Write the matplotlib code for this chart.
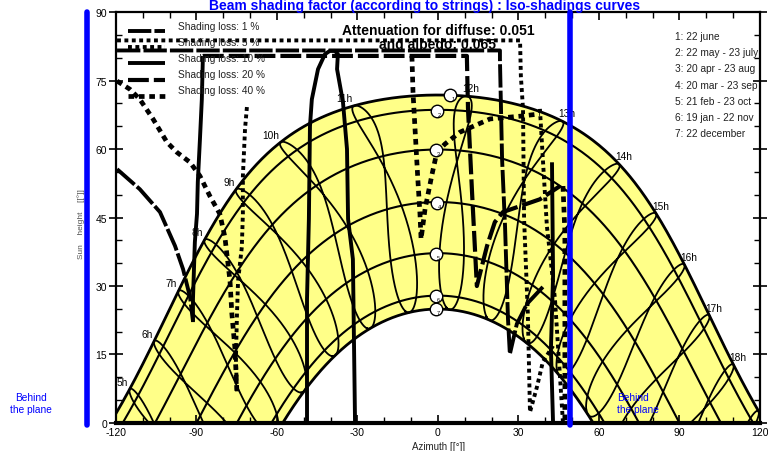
import numpy as np
import matplotlib
matplotlib.use("Agg")
import matplotlib.pyplot as plt

plt.rcParams["font.family"] = ["Liberation Sans", "DejaVu Sans"]
plt.rcParams["axes.unicode_minus"] = False

# ---- site / geometry -------------------------------------------------------
latitude = 41.6              # deg N
clock_offset_min = 16.0      # legal time -> mean solar time (minutes)
plane_azimuth = -40.8        # azimuth of the collector plane

# ---- sun-path dates ---------------------------------------------------------
date_labels = ["1: 22 june", "2: 22 may - 23 july", "3: 20 apr - 23 aug",
               "4: 20 mar - 23 sep", "5: 21 feb - 23 oct", "6: 19 jan - 22 nov",
               "7: 22 december"]
date_declinations = [23.44, 20.2, 11.5, 0.0, -11.2, -20.5, -23.44]
noon_marker_az = [4.5, -0.4, -0.8, -0.4, -0.8, -0.8, -0.8]
noon_marker_alt = [71.8, 68.3, 59.8, 48.2, 37.0, 27.8, 25.0]

hour_lines = list(range(5, 20))
hour_labels = list(range(5, 19))
june_day = 173

# ---- iso-shading curves (azimuth, sun height) -------------------------------
loss_levels = ["1 %", "5 %", "10 %", "20 %", "40 %"]

iso_1_top = [(-119.6, 81.6), (23.1, 81.6), (23.1, 79.7), (23.9, 57.8), (25.0, 43.1),
             (26.1, 22.8), (26.8, 15.1), (29.4, 21.7), (33.2, 26.1), (39.1, 29.8)]
iso_1_west = [(-119.6, 55.6), (-111.1, 51.2), (-103.6, 46.2), (-98.0, 38.8),
              (-95.0, 33.7), (-92.4, 27.6), (-91.3, 22.3)]
iso_5_top = [(-119.6, 83.8), (30.6, 83.8), (30.9, 76.0), (31.7, 68.8), (32.1, 44.7),
             (33.5, 23.9), (34.3, 2.4), (36.9, 7.9), (39.1, 13.4), (42.9, 16.9)]
iso_5_west = [(-71.2, 69.2), (-71.9, 64.4), (-72.7, 54.1), (-72.7, 45.8), (-73.1, 38.5),
              (-74.5, 31.1), (-74.9, 23.9), (-75.3, 14.0), (-74.9, 6.4)]
iso_5_east = [(38.0, 68.8), (39.1, 57.8), (40.6, 43.1), (43.6, 27.2), (46.6, 0.0)]
iso_10_west = [(-87.6, 80.4), (-88.0, 70.9), (-88.7, 62.2), (-89.5, 52.8), (-89.8, 45.8),
               (-90.6, 39.6), (-91.3, 27.2), (-91.3, 22.1)]
iso_10_peak = [(-48.8, 0.0), (-48.8, 27.2), (-48.1, 44.7), (-47.7, 65.0), (-47.0, 70.9),
               (-44.7, 77.5), (-42.1, 80.8), (-40.3, 81.5), (-38.4, 81.5), (-37.3, 80.8),
               (-37.6, 77.5), (-35.4, 70.3), (-33.9, 60.0), (-33.5, 44.7), (-31.7, 35.9),
               (-30.9, 0.0)]
iso_10_east = [(42.5, 57.1), (42.9, 32.2), (42.1, 16.2), (42.9, 0.0)]
iso_20_top = [(-87.6, 80.4), (10.8, 80.4), (10.8, 79.7), (11.2, 68.8), (12.7, 50.6),
              (14.5, 30.0), (18.3, 38.8), (21.2, 44.0), (24.2, 46.2), (30.6, 47.5),
              (38.0, 49.0), (45.5, 51.9)]
iso_40_west = [(-119.6, 74.9), (-114.8, 73.1), (-111.1, 70.9), (-106.2, 66.6),
               (-101.0, 61.5), (-97.3, 59.3), (-92.4, 57.1), (-88.7, 54.1), (-85.0, 49.7),
               (-81.3, 45.8), (-79.4, 40.7), (-77.5, 31.1), (-76.8, 23.9), (-75.7, 16.6),
               (-74.9, 6.4)]
iso_40_noon = [(-9.7, 80.4), (-9.3, 72.5), (-8.6, 65.0), (-7.5, 53.4), (-6.7, 45.8),
               (-6.3, 40.3), (-4.8, 46.9), (-2.2, 54.5), (-0.4, 59.3), (2.6, 61.1),
               (8.2, 63.7), (19.4, 66.6), (30.6, 67.2), (38.0, 67.7)]
iso_40_east = [(46.6, 51.9), (47.3, 41.8), (47.3, 0.0)]

iso_curves = {
    "1 %": [iso_1_top, iso_1_west],
    "5 %": [iso_5_top, iso_5_west, iso_5_east],
    "10 %": [iso_10_west, iso_10_peak, iso_10_east],
    "20 %": [iso_20_top],
    "40 %": [iso_40_west, iso_40_noon, iso_40_east],
}
loss_styles = {
    "1 %": dict(linestyle=(0, (6, 0.8)), linewidth=2.8),
    "5 %": dict(linestyle=(0, (1.0, 0.9)), linewidth=2.8),
    "10 %": dict(linestyle="-", linewidth=2.8),
    "20 %": dict(linestyle=(0, (5, 1.2)), linewidth=3.0),
    "40 %": dict(linestyle=(0, (1.2, 1.0)), linewidth=3.4),
}


def sun_position(decl, hour_angle):
    phi = np.radians(latitude)
    d = np.radians(decl)
    h = np.radians(hour_angle)
    sin_alt = np.sin(phi) * np.sin(d) + np.cos(phi) * np.cos(d) * np.cos(h)
    alt = np.degrees(np.arcsin(np.clip(sin_alt, -1, 1)))
    az = np.degrees(np.arctan2(np.sin(h), np.cos(h) * np.sin(phi) - np.tan(d) * np.cos(phi)))
    return az, alt


def day_path(decl, n=400):
    h0 = np.degrees(np.arccos(-np.tan(np.radians(latitude)) * np.tan(np.radians(decl))))
    return sun_position(decl, np.linspace(-h0, h0, n))


def declination(day):
    return 23.45 * np.sin(np.radians(360.0 / 365.0 * (284 + day)))


def equation_of_time(day):
    b = np.radians(360.0 / 365.0 * (day - 81))
    return 9.87 * np.sin(2 * b) - 7.53 * np.cos(b) - 1.5 * np.sin(b)


def hour_angle(clock_hour, day):
    solar = clock_hour + (clock_offset_min + equation_of_time(day)) / 60.0
    return 15.0 * (solar - 12.0)


fig = plt.figure(figsize=(7.68, 4.52), dpi=100)
ax = fig.add_axes([0.151, 0.062, 0.8385, 0.909])
ax.set_xlim(-120, 120)
ax.set_ylim(0, 90)

# yellow sun-path band between the solstices
az_s, alt_s = day_path(date_declinations[0])
az_w, alt_w = day_path(date_declinations[-1])
ax.fill(np.concatenate([az_s, az_w[::-1]]), np.concatenate([alt_s, alt_w[::-1]]),
        facecolor="#ffff88", edgecolor="none", zorder=1)

# date curves
for i, decl in enumerate(date_declinations):
    az, alt = day_path(decl)
    lw = 2.0 if i in (0, len(date_declinations) - 1) else 1.5
    ax.plot(az, alt, color="black", lw=lw, zorder=2)

# hour lines (legal time, analemma shaped)
days = np.arange(0, 366.5, 0.5)
for hr in hour_lines:
    az, alt = sun_position(declination(days), hour_angle(hr, days))
    alt = np.where(alt >= 0, alt, np.nan)
    ax.plot(az, alt, color="black", lw=1.3, zorder=2)

# hour labels on the summer curve
for hr in hour_labels:
    az, alt = sun_position(declination(june_day), hour_angle(hr, june_day))
    if hr < 12:
        ax.annotate(f"{hr}h", (az, alt), xytext=(-1, 2), textcoords="offset points",
                    ha="right", va="bottom", fontsize=7.3, zorder=6)
    else:
        ax.annotate(f"{hr}h", (az, alt), xytext=(-3, 2), textcoords="offset points",
                    ha="left", va="bottom", fontsize=7.3, zorder=6)

# iso-shading curves
for level, curves in iso_curves.items():
    for pts in curves:
        a = np.array(pts)
        ax.plot(a[:, 0], a[:, 1], color="black", dash_capstyle="butt",
                solid_capstyle="butt", zorder=3, **loss_styles[level])

# noon markers
for i, (a, h) in enumerate(zip(noon_marker_az, noon_marker_alt)):
    ax.plot(a, h, "o", ms=9, mfc="white", mec="black", mew=1.0, zorder=5)
    ax.text(a + 1.0, h - 0.8, str(i + 1), fontsize=4, ha="center", va="center", zorder=6)

# plane limits ("behind the plane")
for lim in (plane_azimuth - 90, plane_azimuth + 90):
    ax.axvline(lim, ymin=-0.004, ymax=1.0, color="#0000ff", lw=4, clip_on=False,
               solid_capstyle="round", zorder=7)

# shading loss legend
for k, level in enumerate(loss_levels):
    yl = 0.954 - k * 0.0395
    ax.plot([0.0186, 0.076], [yl, yl], transform=ax.transAxes, color="black",
            dash_capstyle="butt", solid_capstyle="butt", zorder=4, **loss_styles[level])
    ax.text(0.096, 0.966 - k * 0.039, f"Shading loss: {level}", transform=ax.transAxes,
            fontsize=7.3, va="center", ha="left", color="#222222", zorder=6)

# date legend
for k, lab in enumerate(date_labels):
    ax.text(0.868, 0.942 - k * 0.0395, lab, transform=ax.transAxes, fontsize=7.3,
            va="center", ha="left", color="#222222", zorder=6)

ax.text(0.5, 0.956, "Attenuation for diffuse: 0.051", transform=ax.transAxes,
        fontsize=10, fontweight="bold", ha="center", va="center", zorder=6)
ax.text(0.5, 0.922, "and albedo: 0.065", transform=ax.transAxes,
        fontsize=10, fontweight="bold", ha="center", va="center", zorder=2.5)

ax.text(0.778, 0.0487, "Behind\nthe plane", transform=ax.transAxes, fontsize=7.3,
        color="#0000ff", ha="left", va="center", linespacing=1.15, zorder=6)
fig.text(0.040, 0.106, "Behind\nthe plane", fontsize=7.3, color="#0000ff",
         ha="center", va="center", linespacing=1.15)

# axes decoration
ax.set_xticks(np.arange(-120, 121, 30))
ax.set_xticks(np.arange(-120, 121, 10), minor=True)
ax.set_yticks(np.arange(0, 91, 15))
ax.set_yticks(np.arange(0, 91, 5), minor=True)
ax.tick_params(axis="x", which="major", direction="in", length=6, width=1.2,
               top=True, bottom=True, labelsize=7.5, pad=3)
ax.tick_params(axis="x", which="minor", direction="in", length=4, width=1.0,
               top=True, bottom=True)
ax.tick_params(axis="y", which="major", direction="inout", length=10, width=1.2,
               left=True, right=True, labelsize=7.5, pad=1.5)
ax.tick_params(axis="y", which="minor", direction="in", length=4, width=1.0,
               left=True, right=True)
for side in ("left", "top", "right"):
    ax.spines[side].set_linewidth(1.6)
ax.spines["bottom"].set_linewidth(3)

fig.text(0.553, 1 - 6 / 452, "Beam shading factor (according to strings) : Iso-shadings curves",
         color="#0000ff", fontsize=10, fontweight="bold", ha="center", va="center")
fig.text(439 / 768, 5 / 452, "Azimuth [[°]]", fontsize=7, ha="center", va="center",
         color="#222222")
fig.text(81 / 768, 0.504, "Sun    height    [[°]]", fontsize=6, rotation=90,
         ha="center", va="center", color="#555555")

fig.savefig("out.png", dpi=100)
